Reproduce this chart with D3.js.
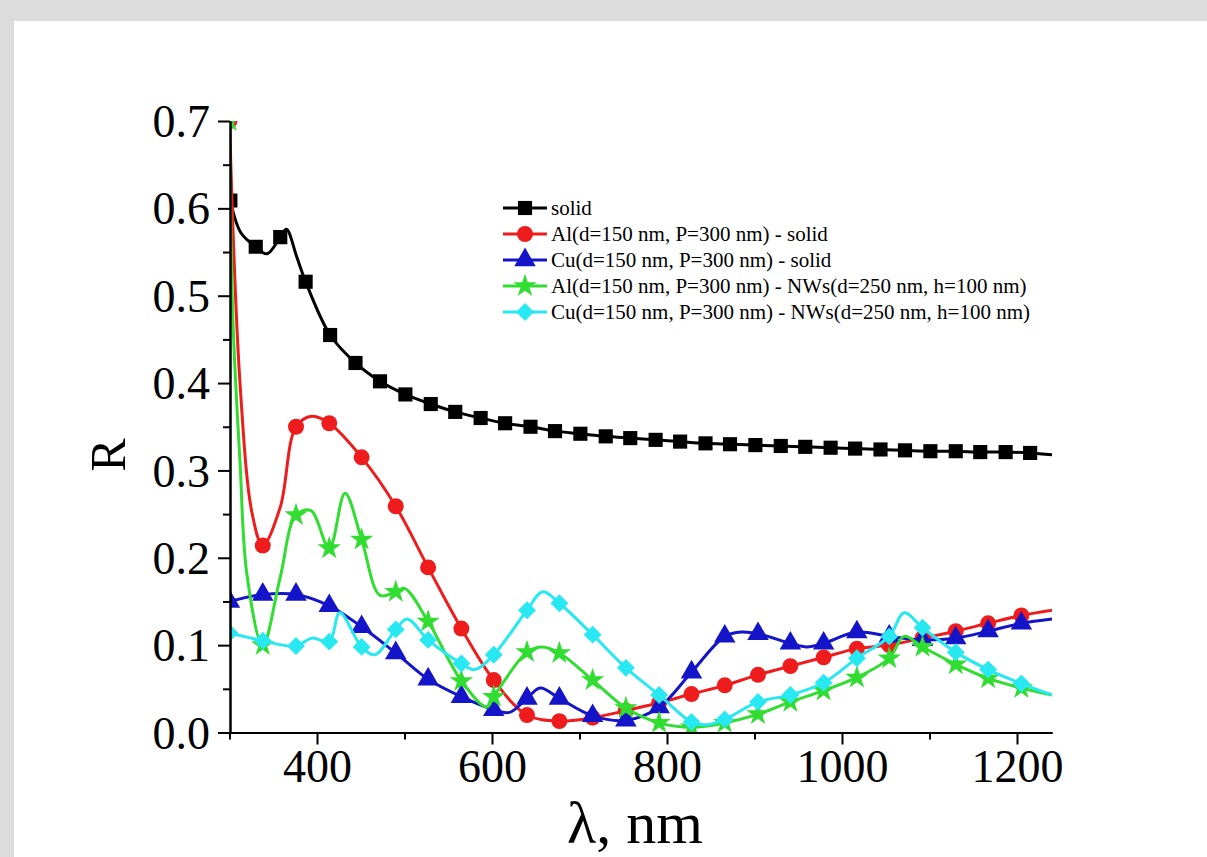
<!DOCTYPE html>
<html>
<head>
<meta charset="utf-8">
<script src="https://cdn.jsdelivr.net/npm/d3@7"></script>
<style>
  html, body { margin: 0; padding: 0; background: #dcdcdc; }
  svg { display: block; }
  text { font-family: "Liberation Serif", "Times New Roman", serif; fill: #000; }
</style>
</head>
<body>
<svg id="chart" width="1207" height="857"></svg>
<script>
// wavelengths of the markers (nm)
var lamSolid = [301,330,358,387,415,444,472,501,530,558,587,615,644,672,701,730,758,787,815,844,872,901,930,958,987,1015,1044,1072,1101,1130,1158,1187,1215];
var lamGrid  = [300,338,376,414,451,490,527,565,602,640,677,715,753,791,828,866,904,941,979,1017,1054,1092,1130,1167,1205];

// marker values
var rSolid = [0.609,0.556,0.567,0.516,0.455,0.423,0.402,0.387,0.376,0.367,0.360,0.354,0.350,0.345,0.342,0.339,0.337,0.335,0.333,0.331,0.330,0.329,0.328,0.327,0.326,0.325,0.324,0.323,0.322,0.322,0.321,0.321,0.320];
var rAl    = [0.700,0.214,0.350,0.354,0.315,0.259,0.189,0.119,0.060,0.020,0.013,0.017,0.025,0.034,0.044,0.054,0.066,0.076,0.086,0.096,0.100,0.108,0.116,0.125,0.134];
var rCu    = [0.150,0.158,0.158,0.145,0.121,0.091,0.061,0.041,0.026,0.039,0.039,0.019,0.014,0.029,0.069,0.110,0.113,0.102,0.102,0.115,0.110,0.106,0.108,0.116,0.125];
var rAlNW  = [0.700,0.100,0.249,0.211,0.221,0.161,0.127,0.059,0.041,0.092,0.091,0.060,0.028,0.011,0.006,0.011,0.021,0.035,0.048,0.063,0.085,0.098,0.078,0.062,0.051];
var rCuNW  = [0.114,0.105,0.099,0.104,0.098,0.118,0.106,0.079,0.089,0.140,0.148,0.112,0.074,0.043,0.012,0.015,0.035,0.043,0.057,0.085,0.110,0.120,0.092,0.072,0.056];

// extra curve points between markers
var exSolidLam = [313,343,365,377,1240];
var exSolidR   = [0.572,0.548,0.576,0.544,0.318];
var exAlLam    = [312,326,358,394,1240];
var exAlR      = [0.400,0.250,0.258,0.362,0.140];
var exCuLam    = [620,655,885,960,1240];
var exCuR      = [0.023,0.051,0.115,0.098,0.130];
var exAlNWLam  = [304,312,320,358,393,432,472,500,594,657,1071,1240];
var exAlNWR    = [0.470,0.310,0.180,0.178,0.254,0.274,0.157,0.165,0.029,0.098,0.110,0.043];
var exCuNWLam  = [394,426,466,503,580,658,846,1071,1240];
var exCuNWR    = [0.108,0.137,0.089,0.130,0.072,0.161,0.009,0.137,0.043];

var legendLabels = [
  "solid",
  "Al(d=150 nm, P=300 nm) - solid",
  "Cu(d=150 nm, P=300 nm) - solid",
  "Al(d=150 nm, P=300 nm) - NWs(d=250 nm, h=100 nm)",
  "Cu(d=150 nm, P=300 nm) - NWs(d=250 nm, h=100 nm)"
];
var xMajor = [400,600,800,1000,1200];
var xMinor = [300,500,700,900,1100];
var yMajor = [0,0.1,0.2,0.3,0.4,0.5,0.6,0.7];
var yMinor = [0.05,0.15,0.25,0.35,0.45,0.55,0.65];

var svg = d3.select('#chart');

svg.append('rect')
  .attr('x', 14).attr('y', 21)
  .attr('width', 1207 - 14).attr('height', 857 - 21)
  .attr('fill', '#fff');

var x = d3.scaleLinear().domain([300, 1240]).range([229.5, 1052]);
var y = d3.scaleLinear().domain([0, 0.7]).range([732.5, 121]);

function pts(lam, r) {
  return lam.map(function (l, i) { return [l, r[i]]; });
}

var series = [
  { name: legendLabels[0], color: '#000000', sym: 'square',   marks: pts(lamSolid, rSolid), extra: pts(exSolidLam, exSolidR) },
  { name: legendLabels[1], color: '#ee1c1c', sym: 'circle',   marks: pts(lamGrid, rAl),     extra: pts(exAlLam, exAlR) },
  { name: legendLabels[2], color: '#1414c8', sym: 'triangle', marks: pts(lamGrid, rCu),     extra: pts(exCuLam, exCuR) },
  { name: legendLabels[3], color: '#30dd30', sym: 'star',     marks: pts(lamGrid, rAlNW),   extra: pts(exAlNWLam, exAlNWR) },
  { name: legendLabels[4], color: '#28e8f2', sym: 'diamond',  marks: pts(lamGrid, rCuNW),   extra: pts(exCuNWLam, exCuNWR) }
];

function symbolPath(sym) {
  if (sym === 'square') return d3.symbol(d3.symbolSquare, 200)();
  if (sym === 'circle') return d3.symbol(d3.symbolCircle, 200)();
  if (sym === 'triangle') return d3.symbol(d3.symbolTriangle, 200)();
  if (sym === 'star') return d3.symbol(d3.symbolStar, 170)();
  return d3.symbol(d3.symbolSquare, 160)();
}
function symbolRot(sym) { return sym === 'diamond' ? ' rotate(45)' : ''; }

svg.append('clipPath').attr('id', 'plotclip')
  .append('rect')
  .attr('x', 230).attr('y', 121)
  .attr('width', 1052 - 230).attr('height', 732.5 - 121);

var line = d3.line()
  .x(function (d) { return x(d[0]); })
  .y(function (d) { return y(d[1]); })
  .curve(d3.curveCatmullRom.alpha(0.5));

var plot = svg.append('g').attr('clip-path', 'url(#plotclip)');

series.forEach(function (s) {
  var knots = s.marks.concat(s.extra).sort(function (a, b) { return a[0] - b[0]; });
  var g = plot.append('g');
  g.append('path')
    .attr('d', line(knots))
    .attr('fill', 'none')
    .attr('stroke', s.color)
    .attr('stroke-width', 3);
  g.selectAll('path.mk')
    .data(s.marks)
    .enter()
    .append('path')
    .attr('class', 'mk')
    .attr('d', symbolPath(s.sym))
    .attr('transform', function (d) { return 'translate(' + x(d[0]) + ',' + y(d[1]) + ')' + symbolRot(s.sym); })
    .attr('fill', s.color);
});

// axes
var xAxis = svg.append('g').attr('transform', 'translate(0,732.5)')
  .call(d3.axisBottom(x).tickValues(xMajor).tickSize(12).tickSizeOuter(0).tickPadding(5).tickFormat(d3.format('d')));
svg.append('g').attr('transform', 'translate(0,732.5)')
  .call(d3.axisBottom(x).tickValues(xMinor).tickSize(7).tickSizeOuter(0).tickFormat(''));
var yAxis = svg.append('g').attr('transform', 'translate(230,0)')
  .call(d3.axisLeft(y).tickValues(yMajor).tickSize(12).tickSizeOuter(0).tickPadding(8).tickFormat(d3.format('.1f')));
svg.append('g').attr('transform', 'translate(230,0)')
  .call(d3.axisLeft(y).tickValues(yMinor).tickSize(7).tickSizeOuter(0).tickFormat(''));

svg.selectAll('.domain, .tick line').attr('stroke', '#000').attr('stroke-width', 2);
xAxis.selectAll('text').attr('font-size', 46).attr('font-family', '"Liberation Serif", serif');
yAxis.selectAll('text').attr('font-size', 46).attr('font-family', '"Liberation Serif", serif')
  .attr('dy', '0.34em');

// axis titles
svg.append('text')
  .attr('x', 635).attr('y', 843)
  .attr('text-anchor', 'middle')
  .attr('font-size', 60)
  .text('λ, nm');
svg.append('text')
  .attr('transform', 'translate(125,455) rotate(-90)')
  .attr('text-anchor', 'middle')
  .attr('font-size', 50)
  .text('R');

// legend
var legend = svg.append('g');
series.forEach(function (s, i) {
  var cy = 208 + i * 26;
  legend.append('line')
    .attr('x1', 503).attr('x2', 547).attr('y1', cy).attr('y2', cy)
    .attr('stroke', s.color).attr('stroke-width', 3);
  legend.append('path')
    .attr('d', symbolPath(s.sym))
    .attr('transform', 'translate(525,' + cy + ')' + symbolRot(s.sym))
    .attr('fill', s.color);
  legend.append('text')
    .attr('x', 551).attr('y', cy).attr('dy', '0.35em')
    .attr('font-size', 21)
    .text(s.name);
});
</script>
</body>
</html>
